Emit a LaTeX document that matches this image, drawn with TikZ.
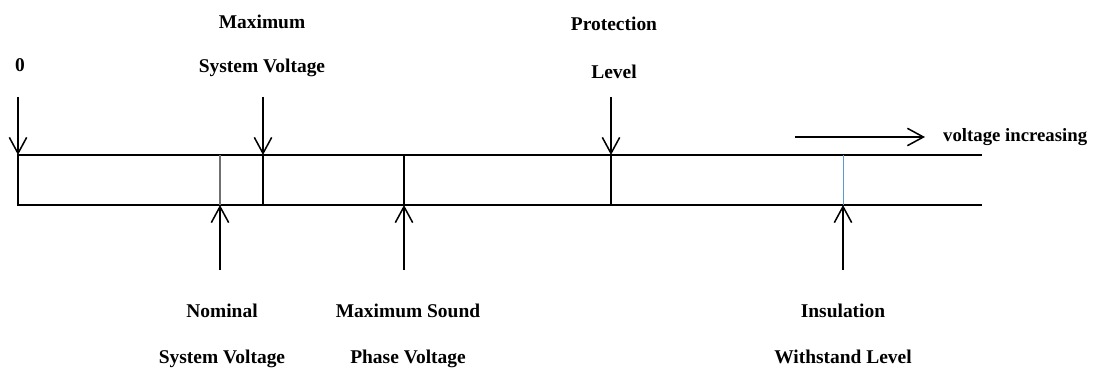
\documentclass[tikz,border=0pt]{standalone}
\usepackage{fontspec}
\setmainfont{Liberation Serif}
\usetikzlibrary{arrows.meta,positioning}
\definecolor{tickgrey}{HTML}{707070}
\definecolor{tickblue}{HTML}{5B9BD5}
\tikzset{
  scaleline/.style={line width=1.3pt, draw=black},
  tick/.style={line width=1.3pt},
  pointer/.style={line width=1.3pt, -{Straight Barb[length=4.8mm,width=5.2mm]}},
  lbl/.style={font=\fontsize{16.6}{37}\selectfont\bfseries, align=center, inner sep=0pt},
}
\begin{document}
\begin{tikzpicture}[x=0.03cm,y=-0.03cm]
  \useasboundingbox (0,0) rectangle (1098,369);
  % ends of the scale bar
  \coordinate (zeroT) at (18,155);   \coordinate (zeroB) at (18,205);
  \coordinate (endT) at (982,155);   \coordinate (endB) at (982,205);
  % tick positions
  \coordinate (nomT) at (220,155);   \coordinate (nomB) at (220,205);
  \coordinate (maxsysT) at (263,155);\coordinate (maxsysB) at (263,205);
  \coordinate (maxphT) at (404,155); \coordinate (maxphB) at (404,205);
  \coordinate (protT) at (611,155);  \coordinate (protB) at (611,205);
  \coordinate (insT) at (843,155);   \coordinate (insB) at (843,205);
  \draw[scaleline] (endT) -- (zeroT) -- (zeroB) -- (endB);
  \draw[tick, tickgrey, line width=1.6pt] (nomT) -- (nomB);
  \draw[tick] (maxsysT) -- (maxsysB);
  \draw[tick] (maxphT) -- (maxphB);
  \draw[tick] (protT) -- (protB);
  \draw[line width=0.8pt, tickblue] (insT) -- (insB);
  % pointers from above
  \coordinate (zeroP) at (18,97);
  \coordinate (maxsysP) at (263,97);
  \coordinate (protP) at (611,97);
  \draw[pointer] (zeroP) -- (zeroT);
  \draw[pointer] (maxsysP) -- (maxsysT);
  \draw[pointer] (protP) -- (protT);
  % pointers from below
  \coordinate (nomP) at (220,270);
  \coordinate (maxphP) at (404,270);
  \coordinate (insP) at (843,270);
  \draw[pointer] (nomP) -- (nomB);
  \draw[pointer] (maxphP) -- (maxphB);
  \draw[pointer] (insP) -- (insB);
  % labels
  \node[lbl] (zeroL) at (20,65) {0};
  \node[lbl] (maxsysL) at (262,46) {Maximum\\System Voltage};
  \node[lbl] (protL) at (614,48) {Protection\\[3.4pt]Level};
  \node[lbl] (nomL) at (222,336) {Nominal\\[1.7pt]System Voltage};
  \node[lbl] (maxphL) at (408,336) {Maximum Sound\\[1.7pt]Phase Voltage};
  \node[lbl] (insL) at (843,334) {Insulation\\[1.7pt]Withstand Level};
  \node[lbl, font=\fontsize{16}{20}\selectfont\bfseries, anchor=west] (incL) at (943,137) {voltage increasing};
  \coordinate (incS) at (795,137);
  \draw[pointer] (incS) -- ([xshift=-18*0.03cm]incL.west);
\end{tikzpicture}
\end{document}
